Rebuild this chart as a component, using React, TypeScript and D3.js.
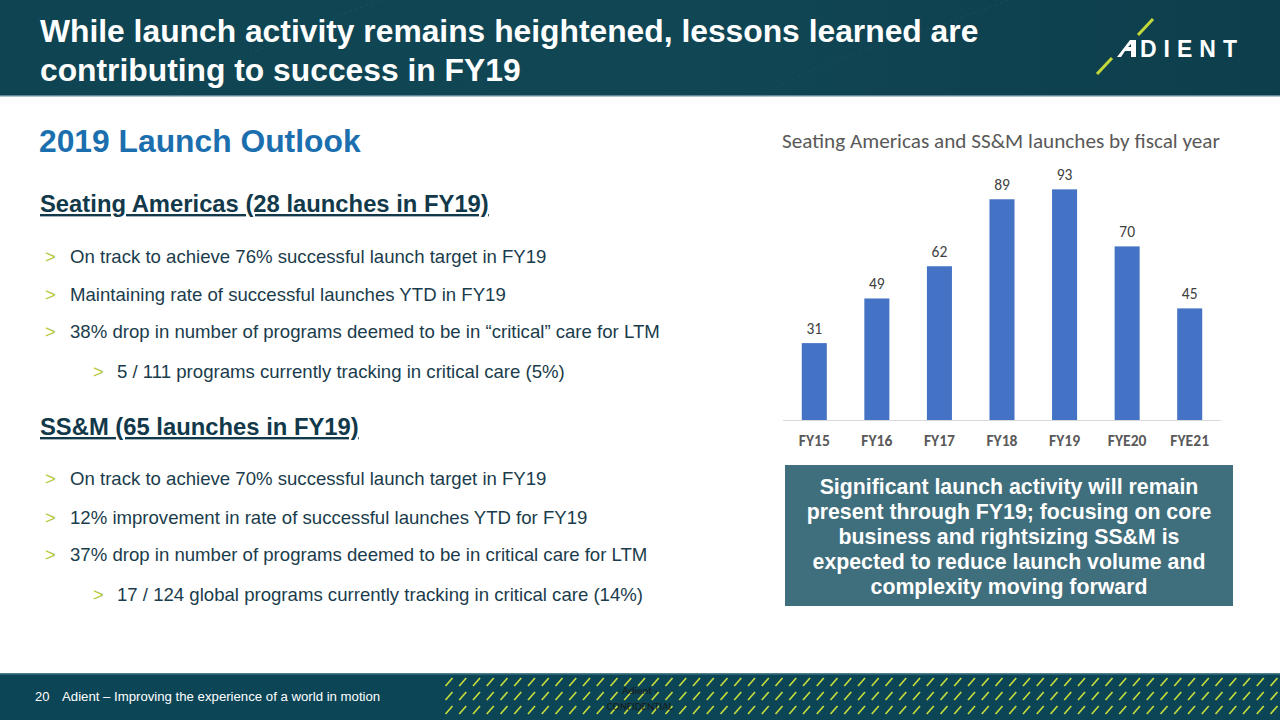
import React from "react";
import * as d3 from "d3";

const categories = ["FY15", "FY16", "FY17", "FY18", "FY19", "FYE20", "FYE21"];
const launches = [31, 49, 62, 89, 93, 70, 45];
const yDomain = [0, 100];

const titleLines = [
  "While launch activity remains heightened, lessons learned are",
  "contributing to success in FY19",
];
const seatingBullets = [
  "On track to achieve 76% successful launch target in FY19",
  "Maintaining rate of successful launches YTD in FY19",
  "38% drop in number of programs deemed to be in \u201ccritical\u201d care for LTM",
];
const seatingSub = "5 / 111 programs currently tracking in critical care (5%)";
const ssmBullets = [
  "On track to achieve 70% successful launch target in FY19",
  "12% improvement in rate of successful launches YTD for FY19",
  "37% drop in number of programs deemed to be in critical care for LTM",
];
const ssmSub = "17 / 124 global programs currently tracking in critical care (14%)";
const calloutLines = [
  "Significant launch activity will remain",
  "present through FY19; focusing on core",
  "business and rightsizing SS&M is",
  "expected to reduce launch volume and",
  "complexity moving forward",
];

const ARIAL = "'Liberation Sans', Arial, sans-serif";
const CAL = "Carlito, Calibri, Lato, 'Open Sans', sans-serif";
const GREEN = "#b4c83a";
const DARK = "#1a3c4c";

export default function App() {
  const x = d3.scaleBand<string>().domain(categories).range([783, 1221]).paddingInner(0.6).paddingOuter(0.3);
  const y = d3.scaleLinear().domain(yDomain).range([420, 172]);

  const slashes: JSX.Element[] = [];
  const rows = [682, 696, 710];
  rows.forEach((ry, ri) => {
    for (let sx = 449; sx < 1282; sx += 13.75) {
      slashes.push(
        <line key={`${ri}-${sx}`} x1={sx - 3.5} y1={ry + 4} x2={sx + 3.5} y2={ry - 4} stroke="#c8dc3c" strokeWidth={1.6} />
      );
    }
  });

  const bullet = (text: string, yy: number, sub = false, key: string) => (
    <g key={key}>
      <text x={sub ? 93 : 45} y={yy} fontFamily={ARIAL} fontSize={18.5} fill={GREEN}>&gt;</text>
      <text x={sub ? 117 : 70} y={yy} fontFamily={ARIAL} fontSize={18.6} fill={DARK}>{text}</text>
    </g>
  );

  return (
    <svg width={1280} height={720} style={{ position: "absolute", left: 0, top: 0 }}>
      <defs>
        <linearGradient id="hdr" x1="0" y1="0" x2="1" y2="0">
          <stop offset="0" stopColor="#0f4452" />
          <stop offset="0.5" stopColor="#114755" />
          <stop offset="1" stopColor="#0d3e4c" />
        </linearGradient>
      </defs>
      <rect x={0} y={0} width={1280} height={720} fill="#ffffff" />
      {/* Header */}
      <rect x={0} y={0} width={1280} height={96} fill="url(#hdr)" />
      <path d="M170,96 C230,60 300,30 380,0" stroke="#1d5664" strokeWidth={1} fill="none" strokeDasharray="3 3" opacity={0.6} />
      <path d="M760,96 C820,60 900,40 1010,0" stroke="#1d5664" strokeWidth={1} fill="none" strokeDasharray="3 3" opacity={0.5} />
      <rect x={0} y={95} width={1280} height={1.5} fill="#5f8793" />
      {titleLines.map((t, i) => (
        <text key={i} x={40} y={42 + i * 39} fontFamily={ARIAL} fontWeight="bold" fontSize={31.8} fill="#ffffff">{t}</text>
      ))}
      {/* Logo */}
      <line x1={1097} y1={74} x2={1112} y2={58} stroke="#c3d63a" strokeWidth={3} />
      <line x1={1138} y1={35} x2={1153} y2={19} stroke="#c3d63a" strokeWidth={3} />
      <path d="M1117,57 L1130,40 L1136,40 L1136,57 L1131,57 L1131,51 L1125,51 L1121,57 Z M1128,47 L1131,47 L1131,44 Z" fill="#ffffff" fillRule="evenodd" />
      <text x={1140} y={57} fontFamily={ARIAL} fontWeight="bold" fontSize={23} fill="#ffffff" letterSpacing={7}>DIENT</text>

      {/* Left text */}
      <text x={39} y={152} fontFamily={ARIAL} fontWeight="bold" fontSize={31.8} fill="#1b6fae">2019 Launch Outlook</text>
      <text x={40} y={212} fontFamily={ARIAL} fontWeight="bold" fontSize={23.8} fill="#12394a" textDecoration="underline">Seating Americas (28 launches in FY19)</text>
      {seatingBullets.map((b, i) => bullet(b, [263, 301, 338][i], false, "s" + i))}
      {bullet(seatingSub, 378, true, "ssub")}
      <text x={40} y={435} fontFamily={ARIAL} fontWeight="bold" fontSize={23.8} fill="#12394a" textDecoration="underline">SS&amp;M (65 launches in FY19)</text>
      {ssmBullets.map((b, i) => bullet(b, [485, 524, 561][i], false, "m" + i))}
      {bullet(ssmSub, 601, true, "msub")}

      {/* Chart */}
      <text x={1001} y={148} textAnchor="middle" fontFamily={CAL} fontSize={21.2} fill="#595959">Seating Americas and SS&amp;M launches by fiscal year</text>
      {categories.map((c, i) => (
        <g key={c}>
          <rect x={x(c)} y={y(launches[i])} width={x.bandwidth()} height={y(0) - y(launches[i])} fill="#4472c4" />
          <text x={(x(c) as number) + x.bandwidth() / 2} y={y(launches[i]) - 9} textAnchor="middle" fontFamily={CAL} fontSize={15.5} fill="#404040">{launches[i]}</text>
          <text x={(x(c) as number) + x.bandwidth() / 2} y={446} textAnchor="middle" fontFamily={CAL} fontWeight="bold" fontSize={15.6} fill="#595959">{c}</text>
        </g>
      ))}
      <line x1={783} x2={1221} y1={420.5} y2={420.5} stroke="#d9d9d9" strokeWidth={1} />

      {/* Callout */}
      <rect x={785} y={465} width={448} height={141} fill="#3f6e7d" />
      {calloutLines.map((l, i) => (
        <text key={i} x={1009} y={494 + i * 25} textAnchor="middle" fontFamily={ARIAL} fontWeight="bold" fontSize={21.3} fill="#ffffff">{l}</text>
      ))}

      {/* Footer */}
      <rect x={0} y={673} width={1280} height={47} fill="#0b4556" />
      <rect x={0} y={673} width={1280} height={1.5} fill="#4c7f8c" />
      {slashes}
      <text x={35} y={701} fontFamily={ARIAL} fontSize={13} fill="#ffffff">20</text>
      <text x={62} y={701} fontFamily={ARIAL} fontSize={13.2} fill="#ffffff">Adient – Improving the experience of a world in motion</text>
      <text x={640} y={694} textAnchor="middle" fontFamily={CAL} fontSize={11} fill="#1a1a1a">Adient -</text>
      <text x={640} y={710} textAnchor="middle" fontFamily={CAL} fontSize={11} fill="#1a1a1a">CONFIDENTIAL</text>
    </svg>
  );
}
